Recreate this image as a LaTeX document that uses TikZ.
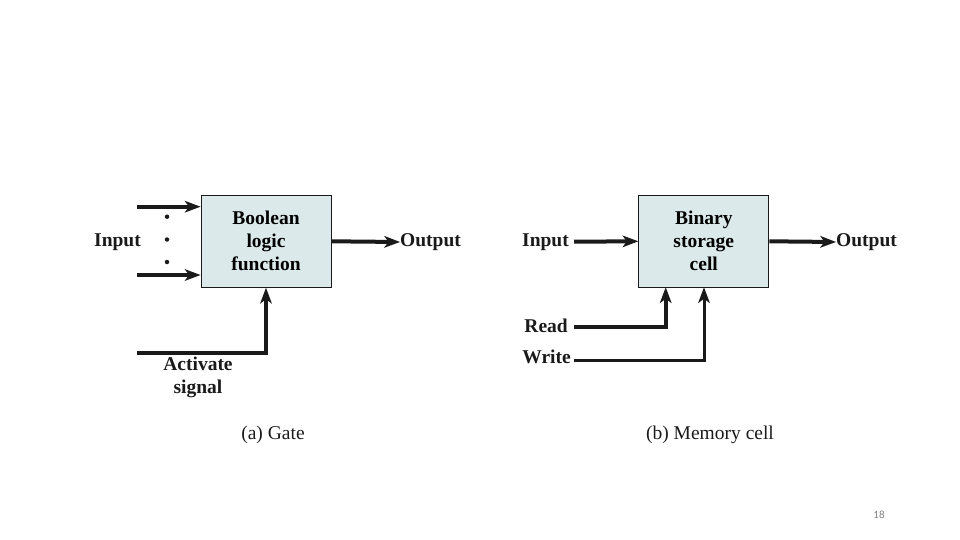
\documentclass[tikz,border=0pt]{standalone}
\usepackage{fontspec}
\setmainfont{Liberation Serif}
\newfontfamily\pagefont{Carlito}
\usetikzlibrary{arrows.meta}
\definecolor{boxfill}{HTML}{DCE9EA}
\definecolor{ink}{HTML}{1A1A1A}
\begin{document}
\begin{tikzpicture}[x=1pt,y=-1pt,
  tip/.tip={Stealth[length=16pt,width=12pt,inset=4.5pt,line width=0pt]},
  blk/.style={draw=ink,line width=1pt,fill=boxfill,minimum width=130pt,minimum height=92pt,inner sep=0pt,align=center,font=\fontsize{19.5}{23}\selectfont\bfseries},
  lbl/.style={inner sep=0pt,font=\fontsize{19.5}{23}\selectfont\bfseries,text=ink,align=center},
  captxt/.style={inner sep=0pt,font=\fontsize{19.5}{23}\selectfont,text=ink},
  arr/.style={draw=ink,line width=4pt,-tip},
  dotm/.style={circle,fill=ink,inner sep=0pt,minimum size=4.5pt}]
\useasboundingbox (0,0) rectangle (960,540);
% (a) Gate
\node[blk] (gate) at (266,241.3) {Boolean\\logic\\function};
\coordinate (gi1) at (137,206.7);
\coordinate (gi2) at (137,275);
\coordinate (gact) at (137,352.7);
\draw[arr] (gi1) -- (gi1 -| gate.west);
\draw[arr] (gi2) -- (gi2 -| gate.west);
\node[dotm] (d1) at (167,216.7) {};
\node[dotm] (d2) at (167,239.5) {};
\node[dotm] (d3) at (167,262) {};
\node[lbl,anchor=east] (ginl) at (141,242) {Input};
\node[lbl,anchor=west] (goutl) at (400,242) {Output};
\draw[arr] (gate.east) -- (goutl.west);
\draw[arr] (gact) -| (gate.south);
\node[lbl] (gactl) at (198,377) {Activate\\signal};
\node[captxt] (capa) at (273,435) {(a) Gate};
% (b) Memory cell
\node[blk] (mem) at (703.8,241.3) {Binary\\storage\\cell};
\node[lbl,anchor=east] (minl) at (569,242) {Input};
\node[lbl,anchor=west] (moutl) at (836,242) {Output};
\coordinate (ms) at (574,241.7);
\draw[arr] (ms) -- (mem.west);
\draw[arr] (mem.east) -- (moutl.west);
\node[lbl,anchor=east] (readl) at (568,326) {Read};
\node[lbl,anchor=east] (writel) at (571,357) {Write};
\coordinate (rs) at (574,326.7);
\coordinate (ws) at (574,360);
\coordinate (rt) at (665.7,287.3);
\coordinate (wt) at (704,287.3);
\draw[arr] (rs) -| (rt);
\draw[arr,line width=3pt] (ws) -| (wt);
\node[captxt] (capb) at (710,435) {(b) Memory cell};
% page number
\node[inner sep=0pt,font=\pagefont\fontsize{11}{13}\selectfont,text=gray] (pg) at (879,515) {18};
\end{tikzpicture}
\end{document}
